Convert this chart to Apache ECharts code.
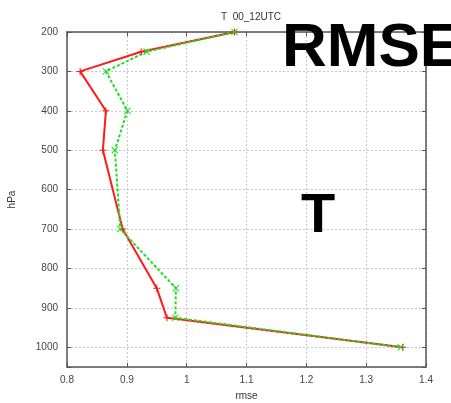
<!DOCTYPE html>
<html>
<head>
<meta charset="utf-8">
<script src="https://cdn.jsdelivr.net/npm/echarts@6/dist/echarts.min.js"></script>
<style>
  html, body { margin: 0; padding: 0; background: #fff; }
  #rmse-chart { width: 451px; height: 403px; }
</style>
</head>
<body>
<div id="rmse-chart"></div>
<script>
// pressure levels (hPa) and rmse of the two runs
const levels = [200, 250, 300, 400, 500, 700, 850, 925, 1000];
const rmseRed = [1.08, 0.924, 0.822, 0.865, 0.860, 0.893, 0.950, 0.967, 1.361];
const rmseGreen = [1.08, 0.933, 0.865, 0.901, 0.880, 0.889, 0.982, 0.981, 1.358];

let myChart = echarts.init(document.getElementById("rmse-chart"));

const frame = "#555";
const gridStyle = { color: "#c8c8c8", type: [2, 2], width: 1 };
const plus = "path://M-0.15,-1L0.15,-1L0.15,-0.15L1,-0.15L1,0.15L0.15,0.15L0.15,1L-0.15,1L-0.15,0.15L-1,0.15L-1,-0.15L-0.15,-0.15Z";
const cross = "path://M-1,-0.8L-0.8,-1L0,-0.2L0.8,-1L1,-0.8L0.2,0L1,0.8L0.8,1L0,0.2L-0.8,1L-1,0.8L-0.2,0Z";

let option = {
  animation: false,
  textStyle: { fontFamily: "Liberation Sans" },
  title: {
    text: "T  00_12UTC",
    left: 246,
    top: 7,
    textAlign: "center",
    textStyle: { fontSize: 10, fontWeight: "normal", color: "#333" }
  },
  grid: { left: 67, right: 25, top: 32, bottom: 36, outerBoundsMode: "none" },
  xAxis: [{
    type: "value",
    min: 0.8,
    max: 1.4,
    interval: 0.1,
    name: "rmse",
    nameLocation: "middle",
    nameGap: 24,
    nameTextStyle: { fontSize: 10, color: "#333" },
    axisLine: { onZero: false, lineStyle: { color: frame, width: 1.5 } },
    axisTick: { inside: true, length: 4, lineStyle: { color: frame } },
    axisLabel: { fontSize: 10, color: "#444", margin: 8 },
    splitLine: { lineStyle: gridStyle }
  }, {
    type: "value",
    position: "top",
    min: 0.8,
    max: 1.4,
    interval: 0.1,
    axisLine: { onZero: false, lineStyle: { color: frame, width: 1.5 } },
    axisTick: { inside: true, length: 4, lineStyle: { color: frame } },
    axisLabel: { show: false },
    splitLine: { show: false }
  }],
  yAxis: [{
    type: "value",
    inverse: true,
    min: 200,
    max: 1050,
    interval: 100,
    name: "hPa",
    nameLocation: "middle",
    nameGap: 50,
    nameRotate: 90,
    nameTextStyle: { fontSize: 10, color: "#333" },
    axisLine: { onZero: false, lineStyle: { color: frame, width: 1.5 } },
    axisTick: { inside: true, length: 4, lineStyle: { color: frame } },
    axisLabel: {
      fontSize: 10, color: "#444", margin: 9,
      formatter: v => (v % 100 === 0 ? String(v) : "")
    },
    splitLine: { lineStyle: gridStyle }
  }, {
    type: "value",
    position: "right",
    inverse: true,
    min: 200,
    max: 1050,
    interval: 100,
    axisLine: { onZero: false, lineStyle: { color: frame, width: 1.5 } },
    axisTick: { inside: true, length: 4, lineStyle: { color: frame } },
    axisLabel: { show: false },
    splitLine: { show: false }
  }],
  series: [{
    name: "red",
    type: "line",
    symbol: plus,
    symbolSize: 7,
    lineStyle: { color: "#ff1a1a", width: 2 },
    itemStyle: { color: "#ff1a1a" },
    data: levels.map((p, i) => [rmseRed[i], p])
  }, {
    name: "green",
    type: "line",
    symbol: cross,
    symbolSize: 7,
    lineStyle: { color: "#22dd22", width: 2, type: [3, 2] },
    itemStyle: { color: "#22dd22" },
    data: levels.map((p, i) => [rmseGreen[i], p])
  }],
  graphic: [{
    type: "rect",
    shape: { x: 424, y: 18, width: 27, height: 34 },
    style: { fill: "#fff" },
    z: 100
  }, {
    type: "text",
    left: 282,
    top: 18,
    style: { text: "RMSE", font: "bold 62px Liberation Sans", fill: "#000" },
    z: 101
  }, {
    type: "text",
    left: 301,
    top: 189,
    style: { text: "T", font: "bold 56px Liberation Sans", fill: "#000" },
    z: 101
  }]
};
myChart.setOption(option);

window.addEventListener("resize", function () {
  myChart.resize();
});
</script>
</body>
</html>
